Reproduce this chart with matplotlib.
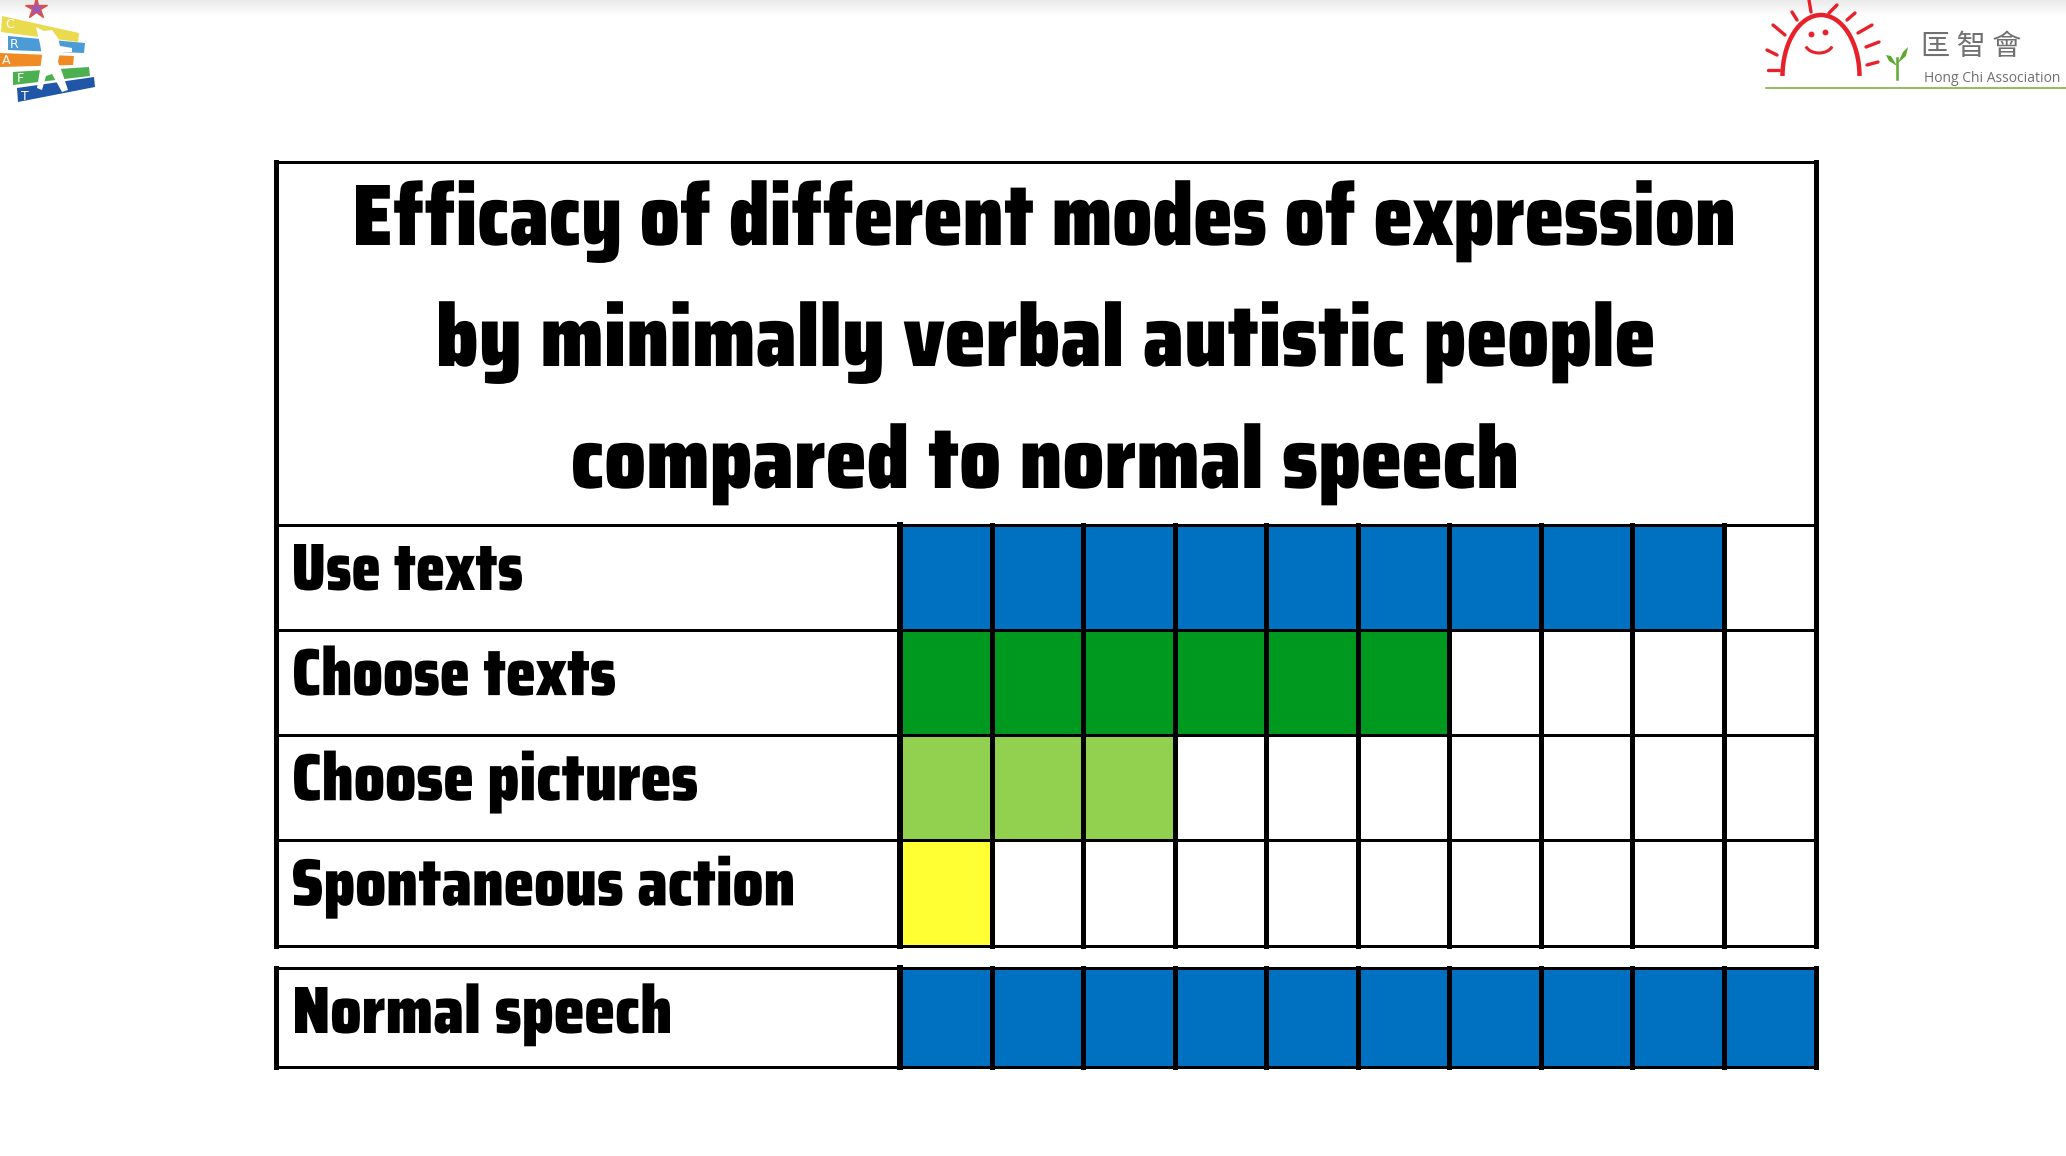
import os
import matplotlib
matplotlib.use("Agg")
import matplotlib.pyplot as plt
from matplotlib import font_manager
from matplotlib.font_manager import FontProperties
from matplotlib.patches import Polygon, Arc
from matplotlib.textpath import TextPath
from matplotlib.transforms import Affine2D
import matplotlib.patheffects as pe
import numpy as np

# ---------------- data ----------------
title_lines = ["Efficacy of different modes of expression",
               "by minimally verbal autistic people",
               "compared to normal speech"]
modes = ["Use texts", "Choose texts", "Choose pictures", "Spontaneous action"]
mode_scores = [9, 6, 3, 1]
mode_colors = ["#0070C0", "#00991F", "#92D050", "#FFFF33"]
baseline_label = "Normal speech"
baseline_score = 10
baseline_color = "#0070C0"
n_cells = 10


# ---------------- font choice ----------------
def _w(f):
    w = f.weight
    if isinstance(w, (int, float)):
        return int(w)
    return font_manager.weight_dict.get(w, 400)


def pick_font():
    cond, heavy = [], []
    for f in font_manager.fontManager.ttflist:
        base = os.path.basename(f.fname).lower()
        if f.style != "normal" or "italic" in base or "oblique" in base or "mono" in base:
            continue
        if "serif" in base and "sans" not in base:
            continue
        w = _w(f)
        is_cond = ("condensed" in base or "narrow" in base or
                   str(f.stretch) in ("condensed", "semi-condensed", "extra-condensed",
                                      "ultra-condensed"))
        if is_cond and w >= 600:
            cond.append((w, "extra" not in base and "ultra" not in base, f.fname))
        if w >= 700 and any(k in f.name for k in ("Lato", "Roboto", "Inter", "Open Sans",
                                                  "Noto Sans", "DejaVu Sans", "Liberation Sans")):
            if "CJK" not in f.name and "Display" not in f.name:
                heavy.append((w, f.fname))
    if cond:
        return max(cond)[2]
    if heavy:
        return max(heavy)[1]
    return None


fpath = pick_font()
FP = FontProperties(fname=fpath) if fpath else FontProperties(family="DejaVu Sans", weight="bold")


def cap_px_per_pt(prop):
    ext = TextPath((0, 0), "H", size=100, prop=prop).get_extents()
    return ext.height / 100 * 100 / 72


def ink_px(s, size, prop):
    ext = TextPath((0, 0), s, size=size, prop=prop).get_extents()
    return ext.x0 * 100 / 72, ext.width * 100 / 72


class XScale(pe.AbstractPathEffect):
    """Horizontal scaling of glyphs around an anchor (font width tweak)."""

    def __init__(self, sx, ax, xa):
        super().__init__()
        self.sx, self.ax, self.xa = sx, ax, xa

    def draw_path(self, renderer, gc, tpath, affine, rgbFace=None):
        x0 = self.ax.transData.transform((self.xa, 0))[0]
        aff = affine + Affine2D().translate(-x0, 0).scale(self.sx, 1).translate(x0, 0)
        renderer.draw_path(gc, tpath, aff, rgbFace)


W, H = 2066, 1156
fig = plt.figure(figsize=(W / 100, H / 100), dpi=100)

X0, X1 = 275.5, 1815.5
XL = 900
Y_TOP, Y_ROW0, Y_BOT = 162, 525, 945.5
NY0, NY1 = 968, 1067
VLW = 5 * 0.72
HLW = 3 * 0.72


def px_axes(x0, y0, x1, y1, z):
    a = fig.add_axes([x0 / W, 1 - y1 / H, (x1 - x0) / W, (y1 - y0) / H])
    a.set_zorder(z)
    return a


# main grid of cells
ga = px_axes(XL, Y_ROW0, X1, Y_BOT, 1)
ga.set_xlim(0, n_cells)
ga.set_ylim(len(modes), 0)
ga.axis("off")
for i, (score, col) in enumerate(zip(mode_scores, mode_colors)):
    cols = [col if j < score else "white" for j in range(n_cells)]
    ga.barh(i, 1, left=np.arange(n_cells), height=1, align="edge",
            color=cols, edgecolor="none")

# baseline row of cells
na = px_axes(XL, NY0, X1, NY1, 1)
na.set_xlim(0, n_cells)
na.set_ylim(1, 0)
na.axis("off")
na.barh(0, 1, left=np.arange(n_cells), height=1, align="edge",
        color=[baseline_color if j < baseline_score else "white" for j in range(n_cells)],
        edgecolor="none")

# overlay axes in pixel coordinates
bg = fig.add_axes([0, 0, 1, 1])
bg.set_zorder(2)
bg.patch.set_visible(False)
bg.set_xlim(0, W)
bg.set_ylim(H, 0)
bg.axis("off")

grad = np.linspace(0.92, 1.0, 30).reshape(-1, 1)
bg.imshow(np.dstack([grad, grad, grad]), extent=(0, W, 16, 0), aspect="auto", zorder=0)

cw = (X1 - XL) / n_cells
row_h = (Y_BOT - Y_ROW0) / len(modes)
kw = dict(color="black", solid_capstyle="projecting")
bg.plot([X0, X1], [Y_TOP, Y_TOP], lw=HLW, zorder=5, **kw)
for k in range(len(modes) + 1):
    y = Y_ROW0 + k * row_h
    bg.plot([X0, X1], [y, y], lw=HLW, zorder=5, **kw)
bg.plot([X0, X0], [Y_TOP, Y_BOT], lw=VLW, zorder=6, **kw)
bg.plot([X1, X1], [Y_TOP, Y_BOT], lw=VLW, zorder=6, **kw)
for j in range(n_cells):
    x = XL + j * cw
    bg.plot([x, x], [Y_ROW0, Y_BOT], lw=6 * 0.72 if j == 0 else VLW, zorder=6, color="black")

for y in (NY0, NY1):
    bg.plot([X0, X1], [y, y], lw=HLW, zorder=5, **kw)
bg.plot([X0, X0], [NY0, NY1], lw=VLW, zorder=6, **kw)
bg.plot([X1, X1], [NY0, NY1], lw=VLW, zorder=6, **kw)
for j in range(n_cells):
    x = XL + j * cw
    bg.plot([x, x], [NY0, NY1], lw=6 * 0.72 if j == 0 else VLW, zorder=6, color="black")


# ---------------- text ----------------
def fitted_text(s, xl, xr, yb, cap, prop=FP, color="black", z=7):
    fs = cap / cap_px_per_pt(prop)
    x0i, wi = ink_px(s, fs, prop)
    sx = (xr - xl) / wi
    xa = xl - x0i * sx
    return bg.text(xa, yb, s, ha="left", va="baseline", fontproperties=prop, fontsize=fs,
                   color=color, zorder=z, path_effects=[XScale(sx, bg, xa)])


title_span = [(356, 1733), (439, 1653), (573, 1516)]
title_base = [245, 366, 488]
for line, (xl, xr), yb in zip(title_lines, title_span, title_base):
    fitted_text(line, xl, xr, yb, 60)

label_span = [(294, 522), (294, 615), (294, 697), (293, 793)]
for i, (lab, (xl, xr)) in enumerate(zip(modes, label_span)):
    fitted_text(lab, xl, xr, Y_ROW0 + i * row_h + 65, 46)
fitted_text(baseline_label, 295, 670, 1033, 46)

# ---------------- CRAFT logo (top-left) ----------------
bars = [
    ([(2, 16), (79, 33), (78, 42), (1, 32)], "#EADB4E"),
    ([(8, 36), (85, 43), (84, 53), (8, 50)], "#4A9BD6"),
    ([(0, 53), (74, 56), (73, 65), (0, 67)], "#F08A24"),
    ([(13, 72), (89, 67), (90, 76), (13, 85)], "#4CAF50"),
    ([(17, 88), (94, 77), (95, 87), (18, 102)], "#1F56A8"),
]
for pts, c in bars:
    bg.add_patch(Polygon(pts, closed=True, facecolor=c, edgecolor="none", zorder=3))
fig_pts = [(36, 27), (44, 31), (52, 30), (58, 38), (60, 46), (72, 48), (72, 52), (60, 52),
           (58, 62), (62, 72), (68, 90), (62, 92), (52, 74), (46, 76), (42, 90), (37, 88),
           (40, 70), (42, 56), (40, 44)]
bg.add_patch(Polygon(fig_pts, closed=True, facecolor="white", edgecolor="none", zorder=4))
for ch, (x, y) in zip("CRAFT", [(10, 25), (14, 45), (6, 61), (20, 79), (25, 96)]):
    bg.text(x, y, ch, color="white", fontsize=9, ha="center", va="center",
            family="DejaVu Sans", zorder=5)
bg.plot([36], [8], marker="*", markersize=16, color="#9B59B6", zorder=5,
        markeredgecolor="#E74C3C", markeredgewidth=1)

# ---------------- Hong Chi logo (top-right) ----------------
red = "#E8202A"
bg.add_patch(Arc((1821, 76), 77, 122, theta1=180, theta2=360, color=red, lw=3.2, zorder=3))
rays = [((1768, 70), (1779, 70)), ((1767, 50), (1777, 55)), ((1773, 25), (1785, 35)),
        ((1792, 12), (1797, 20)), ((1809, 0), (1811, 12)), ((1837, 5), (1829, 13)),
        ((1855, 13), (1847, 20)), ((1872, 25), (1858, 33)), ((1879, 42), (1866, 47)),
        ((1878, 62), (1867, 65))]
for (xa, ya), (xb, yb) in rays:
    bg.plot([xa, xb], [ya, yb], color=red, lw=2.4, zorder=3, solid_capstyle="round")
bg.plot([1811, 1825], [34, 32], ls="none", marker="o", ms=3.2, color=red, zorder=3)
bg.add_patch(Arc((1819, 43), 28, 20, theta1=15, theta2=165, color=red, lw=2.2, zorder=3))
green = "#5BAA2E"
bg.plot([1897, 1897], [58, 79], color=green, lw=1.8, zorder=3)
bg.add_patch(Polygon([(1897, 66), (1891, 56), (1886, 55), (1889, 61)], facecolor=green,
                     edgecolor="none", zorder=3))
bg.add_patch(Polygon([(1898, 63), (1903, 52), (1908, 47), (1906, 56)], facecolor=green,
                     edgecolor="none", zorder=3))
bg.text(1921, 47, "匡 智 會", fontsize=21, color="#707070", ha="left", va="center",
        family=["Noto Sans CJK TC", "DejaVu Sans"])
hc_prop = FontProperties(family="Open Sans")
hc_text = "Hong Chi Association"
_, hc_w100 = ink_px(hc_text, 100, hc_prop)
hc_fs = 100 * 134 / hc_w100
bg.text(1924, 82, hc_text, ha="left", va="baseline", fontproperties=hc_prop,
        fontsize=hc_fs, color="#707070", zorder=3)
bg.plot([1766, W], [88, 88], color="#7CB342", lw=1.2)

fig.savefig("out.png", dpi=100)
